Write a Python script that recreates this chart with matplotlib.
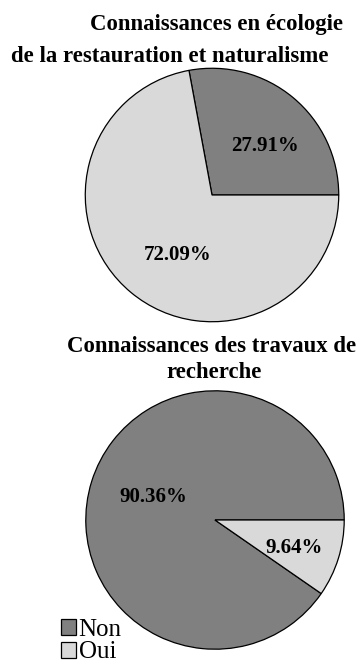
import matplotlib
matplotlib.use("Agg")
import matplotlib.pyplot as plt

labels = ["Non", "Oui"]
ecologie_values = [27.91, 72.09]
recherche_values = [90.36, 9.64]
colors = ["#808080", "#d9d9d9"]

plt.rcParams["font.family"] = ["Liberation Serif", "DejaVu Serif"]

W, H = 363, 663


def add_pie(fig, cx, cy, r, values, label_pos):
    ax = fig.add_axes([(cx - r) / W, 1 - (cy + r) / H, 2 * r / W, 2 * r / H])
    wedges, _, autotexts = ax.pie(
        values,
        colors=colors,
        startangle=0,
        counterclock=True,
        autopct="%.2f%%",
        wedgeprops=dict(edgecolor="black", linewidth=0.9),
        textprops=dict(fontsize=15, fontweight="bold"),
    )
    for t, pos in zip(autotexts, label_pos):
        t.set_position(pos)
    ax.set_xlim(-1.01, 1.01)
    ax.set_ylim(-1.01, 1.01)
    ax.axis("off")
    return wedges


def title_line(fig, x, y, s):
    fig.text(x / W, 1 - y / H, s, ha="center", va="baseline",
             fontsize=16.4, fontweight="bold")


fig = plt.figure(figsize=(W / 100, H / 100), dpi=100)

title_line(fig, 216, 30, "Connaissances en écologie")
title_line(fig, 170, 62, "de la restauration et naturalisme")
add_pie(fig, 212, 195, 128, ecologie_values, [(0.42, 0.39), (-0.27, -0.47)])

title_line(fig, 212, 352, "Connaissances des travaux de")
title_line(fig, 214, 378, "recherche")
wedges = add_pie(fig, 215, 520, 130.5, recherche_values, [(-0.475, 0.176), (0.61, -0.22)])

fig.legend(wedges, labels, loc="upper left", bbox_to_anchor=(61 / W, 1 - 619 / H),
           frameon=False, fontsize=18, handlelength=0.6, handleheight=0.6,
           handletextpad=0.1, labelspacing=0.02, borderpad=0, borderaxespad=0)

fig.savefig("out.png", dpi=100)
